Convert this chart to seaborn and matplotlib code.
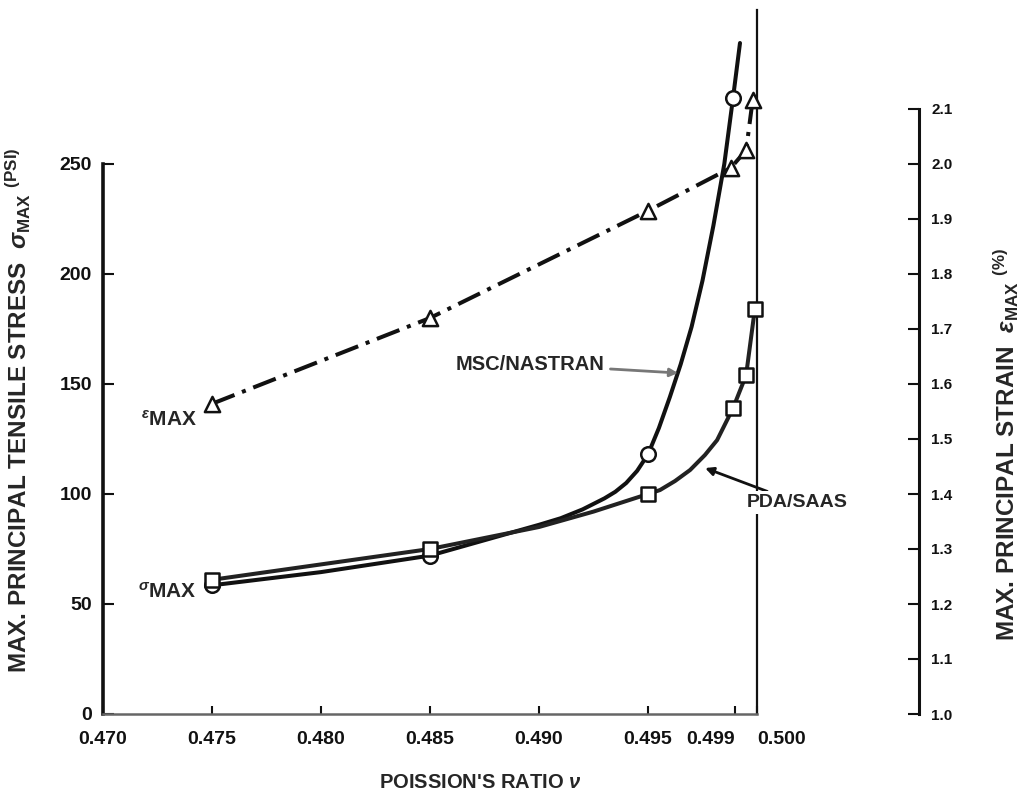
import matplotlib
matplotlib.use("Agg")
import matplotlib.pyplot as plt
import matplotlib.transforms as mtransforms
import seaborn as sns
import pandas as pd

# Poisson's ratio vs. max principal stress / strain

# MSC/NASTRAN stress (circles) and the drawn curve through them
msc_nu = [0.475, 0.485, 0.495, 0.4989]
msc_sigma = [58.5, 72, 118, 280]
msc_curve_nu = [0.475, 0.480, 0.485, 0.490, 0.491, 0.492, 0.493, 0.4935, 0.494,
                0.4945, 0.495, 0.4955, 0.496, 0.4965, 0.497, 0.4975, 0.498,
                0.4985, 0.4989, 0.49922]
msc_curve_sigma = [58.5, 64.5, 72, 86, 89, 93, 98, 101, 105,
                   110.5, 118, 130, 144, 159, 176, 197, 222,
                   250, 280, 305]

# PDA/SAAS stress (squares) and its curve
pda_nu = [0.475, 0.485, 0.495, 0.4989, 0.4995, 0.4999]
pda_sigma = [61, 75, 100, 139, 154, 184]
pda_curve_nu = [0.475, 0.480, 0.485, 0.490, 0.4925, 0.495, 0.49555, 0.49624,
                0.49693, 0.49761, 0.49817, 0.4989, 0.4995, 0.4999]
pda_curve_sigma = [61, 68, 75, 85, 92, 100, 101.8, 105.9,
                   110.9, 117.7, 124.5, 139, 154, 184]

# max principal strain (triangles, right axis)
eps_nu = [0.475, 0.485, 0.495, 0.4988, 0.4995, 0.4998]
eps_val = [1.564, 1.72, 1.915, 1.993, 2.025, 2.116]

x_ticks = [0.470, 0.475, 0.480, 0.485, 0.490, 0.495, 0.499, 0.500]
x_ticklabels = ["0.470", "0.475", "0.480", "0.485", "0.490", "0.495", "0.499", "0.500"]
left_ticks = [0, 50, 100, 150, 200, 250]
right_ticks = [1.0, 1.1, 1.2, 1.3, 1.4, 1.5, 1.6, 1.7, 1.8, 1.9, 2.0, 2.1]

sns.set_theme(style="ticks")
plt.rcParams["font.family"] = ["Liberation Sans", "DejaVu Sans"]
plt.rcParams["font.weight"] = "bold"
plt.rcParams["mathtext.fontset"] = "custom"
plt.rcParams["mathtext.rm"] = "Liberation Sans:bold"
plt.rcParams["mathtext.bf"] = "Liberation Sans:bold"
plt.rcParams["mathtext.it"] = "Liberation Sans:italic:bold"
plt.rcParams["mathtext.fallback"] = "stixsans"

W, H = 1025, 800
fig = plt.figure(figsize=(W / 100, H / 100), dpi=100)
fig.patch.set_facecolor("white")
ax = fig.add_axes([103 / W, 1 - 714 / H, 654 / W, 704 / H])
ax2 = ax.twinx()

lw = 2.9
ink = "#111111"
tfs = 14

# stress curves
sns.lineplot(x=msc_curve_nu, y=msc_curve_sigma, ax=ax, color=ink, lw=lw,
             sort=False, estimator=None, clip_on=False, zorder=3,
             solid_capstyle="round")
sns.lineplot(x=pda_curve_nu, y=pda_curve_sigma, ax=ax, color="#222222", lw=lw,
             sort=False, estimator=None, clip_on=False, zorder=3)
sns.scatterplot(x=msc_nu, y=msc_sigma, ax=ax, marker="o", s=110,
                facecolor="white", edgecolor=ink, linewidth=1.8,
                clip_on=False, zorder=5)
sns.scatterplot(x=pda_nu, y=pda_sigma, ax=ax, marker="s", s=95,
                facecolor="white", edgecolor=ink, linewidth=1.8,
                clip_on=False, zorder=5)

# strain curve (dash-dot)
sns.lineplot(x=eps_nu, y=eps_val, ax=ax2, color=ink, lw=lw, sort=False,
             estimator=None, linestyle=(0, (6, 2, 1, 2)), clip_on=False, zorder=3)
sns.scatterplot(x=eps_nu, y=eps_val, ax=ax2, marker="^", s=120,
                facecolor="white", edgecolor=ink, linewidth=1.8,
                clip_on=False, zorder=5)

ax.set_xlim(0.470, 0.500)
ax.set_ylim(0, 320)
ax2.set_ylim(1.0, 2.28)

ax.set_xticks(x_ticks)
ax.set_xticklabels(x_ticklabels, fontsize=tfs, fontweight="bold")
tl = ax.get_xticklabels()
tl[-2].set_ha("right")
tl[-2].set_transform(tl[-2].get_transform() +
                     mtransforms.ScaledTranslation(-0.05, 0, fig.dpi_scale_trans))
tl[-1].set_ha("left")
tl[-1].set_transform(tl[-1].get_transform() +
                     mtransforms.ScaledTranslation(-0.06, 0, fig.dpi_scale_trans))
ax.set_yticks(left_ticks)
ax.set_yticklabels([str(v) for v in left_ticks], fontsize=tfs, fontweight="bold")
ax2.set_yticks(right_ticks)
ax2.set_yticklabels([f"{v:.1f}" for v in right_ticks], fontsize=tfs, fontweight="bold")

ax.tick_params(axis="x", direction="in", length=6, width=1.5, pad=12, colors=ink)
ax.tick_params(axis="y", direction="in", length=8, width=1.5, pad=8, colors=ink)
ax2.tick_params(axis="y", direction="in", length=8, width=1.5, pad=9, colors=ink)

ax.spines["top"].set_visible(False)
ax.spines["left"].set_linewidth(2.6)
ax.spines["left"].set_color(ink)
ax.spines["left"].set_bounds(0, 250)
ax.spines["bottom"].set_linewidth(1.8)
ax.spines["bottom"].set_color("#666666")
ax.spines["right"].set_linewidth(1.6)
ax.spines["right"].set_color(ink)
for s in ["left", "top", "bottom"]:
    ax2.spines[s].set_visible(False)
ax2.spines["right"].set_position(("axes", 1 + 162 / 654))
ax2.spines["right"].set_bounds(1.0, 2.1)
ax2.spines["right"].set_linewidth(2.2)
ax2.spines["right"].set_color(ink)
ax.set_xlabel("")
ax.set_ylabel("")
ax2.set_ylabel("")

# curve labels
ax.annotate("MSC/NASTRAN", xy=(0.49638, 155), xytext=(0.4930, 159),
            ha="right", va="center", fontsize=14.5, fontweight="bold",
            arrowprops=dict(arrowstyle="-|>", color="#777777", lw=2,
                            mutation_scale=12, shrinkA=2, shrinkB=0))
ax.annotate("PDA/SAAS", xy=(0.49762, 111.8), xytext=(0.49955, 96),
            ha="left", va="center", fontsize=14, fontweight="bold",
            bbox=dict(boxstyle="square,pad=0.15", fc="white", ec="none"),
            arrowprops=dict(arrowstyle="-|>", color=ink, lw=2,
                            mutation_scale=12, shrinkA=0, shrinkB=0),
            zorder=6, annotation_clip=False)
ax.text(0.47431, 131, r"$^{\epsilon}$MAX", ha="right", va="baseline",
        fontsize=15, fontweight="bold")
ax.text(0.47431, 53, r"$^{\sigma}$MAX", ha="right", va="baseline",
        fontsize=15, fontweight="bold")

# axis titles
fig.text(18 / W, 1 - 410 / H,
         r"MAX. PRINCIPAL TENSILE STRESS  $\sigma_{\mathbf{MAX}}$ $^{\mathbf{(PSI)}}$",
         rotation=90, ha="center", va="center", fontsize=17.5, fontweight="bold")
fig.text(1006 / W, 1 - 445 / H,
         r"MAX. PRINCIPAL STRAIN  $\epsilon_{\mathbf{MAX}}$ $^{\mathbf{(\%)}}$",
         rotation=90, ha="center", va="center", fontsize=17.5, fontweight="bold")
fig.text(480 / W, 1 - 783 / H, r"POISSION'S RATIO $\nu$",
         ha="center", va="center", fontsize=14.5, fontweight="bold")

fig.savefig("out.png", dpi=100, facecolor="white")
